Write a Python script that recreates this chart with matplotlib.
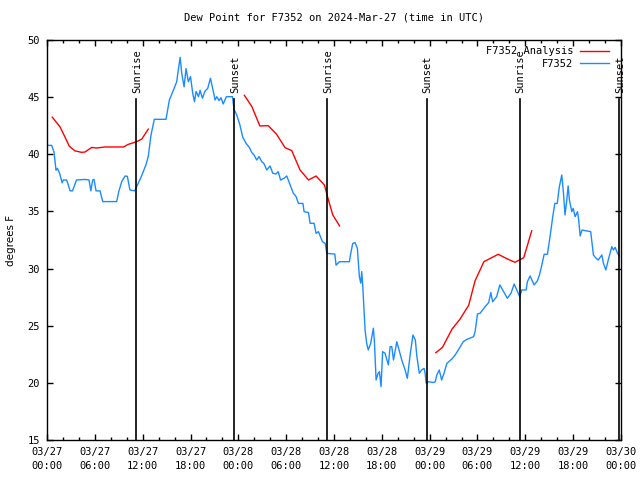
import numpy as np
import matplotlib
matplotlib.use('Agg')
import matplotlib.pyplot as plt

# hours since 2024-03-27 00:00 UTC
obs_hours = [0.0, 0.58, 0.88, 1.13, 1.3, 1.55, 1.9, 2.05, 2.47, 2.9, 3.2, 3.7, 4.77, 5.27, 5.5, 5.73,
             5.9, 6.15, 6.65, 6.99, 8.74, 9.0, 9.37, 9.79, 10.08, 10.4, 11.0, 11.25, 11.88, 12.4, 12.7,
             13.05, 13.46, 14.93, 15.35, 15.85, 16.27, 16.47, 16.7, 16.9, 17.2, 17.44, 17.73, 18.0,
             18.28, 18.5, 18.7, 19.0, 19.2, 19.5, 19.8, 20.16, 20.5, 20.87, 21.08, 21.3, 21.58, 21.83,
             22.1, 22.5, 23.26, 23.46, 23.8, 24.2, 24.55, 24.97, 25.38, 25.7, 25.97, 26.3, 26.6, 26.94,
             27.2, 27.57, 27.98, 28.32, 28.73, 29.0, 29.3, 29.74, 30.07, 30.5, 30.9, 31.24, 31.54, 32.1,
             32.25, 32.8, 33.0, 33.5, 33.75, 34.05, 34.55, 34.9, 35.1, 36.1, 36.26, 36.67, 37.93, 38.1,
             38.35, 38.64, 38.93, 39.18, 39.36, 39.48, 39.6, 39.77, 39.9, 40.1, 40.3, 40.6, 40.86, 40.94,
             41.07, 41.28, 41.53, 41.7, 41.9, 42.1, 42.4, 42.82, 43.04, 43.25, 43.46, 43.88, 44.5, 44.92,
             45.2, 45.55, 45.9, 46.2, 46.4, 46.7, 47.0, 47.3, 47.43, 47.56, 47.84, 48.47, 48.7, 48.9,
             49.2, 49.5, 49.8, 50.15, 50.8, 51.2, 51.7, 52.2, 52.66, 53.5, 53.7, 54.0, 54.33, 54.96,
             55.4, 55.67, 55.9, 56.4, 56.8, 57.75, 58.2, 58.6, 58.93, 59.3, 59.56, 60.1, 60.26, 60.6,
             61.1, 61.5, 61.77, 62.07, 62.36, 62.77, 63.1, 63.44, 63.7, 64.0, 64.27, 64.57, 64.77, 64.98,
             65.2, 65.37, 65.53, 65.83, 66.0, 66.25, 66.54, 66.67, 66.88, 67.1, 68.2, 68.54, 68.88,
             69.15, 69.6, 69.8, 70.1, 70.4, 70.85, 71.05, 71.27, 71.56, 71.8]
obs_dewpt = [40.78, 40.78, 40.2, 38.6, 38.77, 38.4, 37.5, 37.75, 37.75, 36.8, 36.8, 37.75, 37.8, 37.75,
             36.8, 37.75, 37.8, 36.8, 36.8, 35.86, 35.86, 36.73, 37.6, 38.1, 38.07, 36.88, 36.8, 37.17,
             38.13, 39.06, 39.8, 41.7, 43.06, 43.06, 44.75, 45.6, 46.35, 47.38, 48.48, 47.08, 45.9, 47.5,
             46.35, 46.8, 45.33, 44.6, 45.5, 45.04, 45.6, 44.9, 45.5, 45.77, 46.65, 45.48, 44.75, 45.04,
             44.7, 44.95, 44.4, 45.04, 45.04, 43.93, 43.44, 42.56, 41.5, 40.96, 40.6, 40.14, 39.94, 39.5,
             39.8, 39.35, 39.2, 38.63, 38.98, 38.34, 38.28, 38.48, 37.75, 37.9, 38.1, 37.31, 36.59, 36.3,
             35.7, 35.7, 34.98, 34.9, 33.96, 33.96, 33.08, 33.23, 32.35, 32.2, 31.33, 31.27, 30.3, 30.6,
             30.6, 31.33, 32.2, 32.27, 31.77, 29.3, 28.72, 29.73, 28.57, 26.38, 24.6, 23.46, 22.88, 23.46,
             24.48, 24.78, 23.6, 20.25, 20.84, 20.98, 19.67, 22.73, 22.59, 21.57, 23.17, 23.17, 22.0,
             23.6, 22.0, 21.13, 20.4, 22.44, 24.19, 23.75, 22.3, 20.84, 21.13, 21.27, 20.84, 19.97, 20.1,
             20.03, 20.1, 20.7, 21.13, 20.25, 20.84, 21.7, 22.1, 22.44, 23.0, 23.6, 23.8, 24.04, 24.48,
             26.03, 26.09, 26.67, 27.02, 27.9, 27.1, 27.54, 28.57, 27.4, 27.84, 28.65, 28.13, 27.54,
             28.13, 28.13, 28.86, 29.35, 28.57, 28.91, 29.44, 30.3, 31.25, 31.25, 32.8, 34.54, 35.7,
             35.7, 37.17, 38.19, 36.73, 34.69, 36.0, 37.23, 36.0, 34.98, 35.27, 34.54, 34.98, 34.4,
             32.85, 33.37, 33.23, 31.19, 30.9, 30.75, 31.19, 30.46, 29.88, 30.75, 31.92, 31.63, 31.86,
             31.33, 31.1]

# three analysis runs
ana1_hours = [0.67, 1.63, 2.26, 2.8, 3.5, 4.35, 4.77, 5.6, 6.2, 7.3, 9.6, 10.2, 11.25, 11.9, 12.7]
ana1_dewpt = [43.24, 42.4, 41.5, 40.7, 40.3, 40.17, 40.2, 40.6, 40.55, 40.64, 40.64, 40.87, 41.1, 41.34, 42.2]
ana2_hours = [24.76, 25.7, 26.7, 27.77, 28.8, 29.86, 30.7, 31.74, 32.8, 33.75, 34.8, 35.3, 35.85, 36.7]
ana2_dewpt = [45.16, 44.17, 42.48, 42.5, 41.75, 40.58, 40.32, 38.63, 37.75, 38.1, 37.31, 36.0, 34.69, 33.73]
ana3_hours = [48.77, 49.6, 50.8, 51.8, 52.9, 53.7, 54.8, 56.6, 57.75, 58.7, 59.8, 60.8]
ana3_dewpt = [22.64, 23.1, 24.7, 25.57, 26.8, 28.94, 30.6, 31.25, 30.84, 30.55, 30.95, 33.3]

sun_hours = [11.2, 23.5, 35.17, 47.64, 59.27, 71.77]
sun_labels = ['Sunrise', 'Sunset', 'Sunrise', 'Sunset', 'Sunrise', 'Sunset']

tick_hours = list(range(0, 73, 6))
tick_labels = ['03/27\n00:00', '03/27\n06:00', '03/27\n12:00', '03/27\n18:00',
               '03/28\n00:00', '03/28\n06:00', '03/28\n12:00', '03/28\n18:00',
               '03/29\n00:00', '03/29\n06:00', '03/29\n12:00', '03/29\n18:00',
               '03/30\n00:00']

plt.rcParams['font.family'] = 'DejaVu Sans Mono'
plt.rcParams['font.size'] = 7.5

fig = plt.figure(figsize=(6.4, 4.8), dpi=100)
ax = fig.add_axes([47 / 640, 40 / 480, 574 / 640, 400 / 480])

red = '#ff0000'
blue = '#1a8cff'
ax.plot(ana1_hours, ana1_dewpt, color=red, lw=1, label='F7352 Analysis')
ax.plot(ana2_hours, ana2_dewpt, color=red, lw=1)
ax.plot(ana3_hours, ana3_dewpt, color=red, lw=1)
ax.plot(obs_hours, obs_dewpt, color=blue, lw=1, label='F7352')

for h, lab in zip(sun_hours, sun_labels):
    ax.plot([h, h], [15, 44.85], color='black', lw=1.2)
    ax.text(h + 0.1, 45.35, lab, rotation=90, ha='center', va='bottom')

ax.set_xlim(0, 72)
ax.set_ylim(15, 50)
ax.set_xticks(tick_hours)
ax.set_xticklabels(tick_labels, linespacing=1.5)
ax.set_xticks(range(0, 73, 2), minor=True)
ax.set_yticks(range(15, 51, 5))
ax.tick_params(direction='in', top=True, right=True, length=4, width=1, pad=5)
ax.tick_params(which='minor', direction='in', top=True, length=2.5, width=1)
for s in ax.spines.values():
    s.set_linewidth(1)

ax.set_ylabel('degrees F', family='DejaVu Sans', labelpad=8)
ax.set_title('Dew Point for F7352 on 2024-Mar-27 (time in UTC)', fontsize=7.5, pad=14)
ax.legend(loc='upper right', frameon=False, markerfirst=False, handlelength=2.8,
          borderaxespad=0.2, labelspacing=0.25, handletextpad=0.6,
          bbox_to_anchor=(0.99, 1.0))

fig.savefig('out.png', dpi=100)
